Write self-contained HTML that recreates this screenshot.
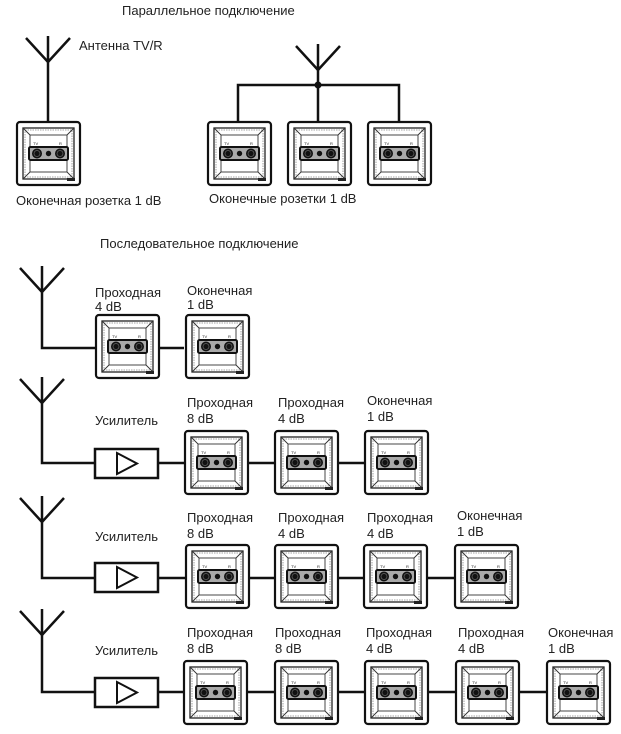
<!DOCTYPE html>
<html><head><meta charset="utf-8"><style>
html,body{margin:0;padding:0;background:#fff;}
svg{display:block;}
text{font-family:"Liberation Sans",Arial,sans-serif;font-size:13px;fill:#222;}
</style></head><body>
<svg width="621" height="734" viewBox="0 0 621 734" xmlns="http://www.w3.org/2000/svg">
<defs>
<g id="s">
<rect x="1" y="1" width="63" height="63" rx="3" fill="#fff" stroke="#111" stroke-width="2.2"/>
<rect x="7" y="7" width="51" height="51" fill="none" stroke="#222" stroke-width="1.3"/>
<rect x="9" y="9" width="47" height="47" fill="none" stroke="#888" stroke-width="0.8" stroke-dasharray="1.5 1"/>
<rect x="14" y="14" width="37" height="37" fill="none" stroke="#333" stroke-width="0.9"/>
<path d="M7 7L14 14M58 7L51 14M7 58L14 51M58 58L51 51" stroke="#333" stroke-width="0.9"/>
<rect x="13" y="26" width="39" height="13" rx="1.5" fill="#aaa" stroke="#111" stroke-width="2"/>
<circle cx="21" cy="32.5" r="5" fill="#111"/><circle cx="21" cy="32.5" r="3" fill="none" stroke="#666" stroke-width="0.7"/>
<circle cx="44" cy="32.5" r="5" fill="#111"/><circle cx="44" cy="32.5" r="3" fill="none" stroke="#666" stroke-width="0.7"/>
<circle cx="32.5" cy="32.5" r="2.7" fill="#111"/>
<text x="17" y="24" style="font-size:4px">TV</text><text x="43" y="24" style="font-size:4px">R</text>
<rect x="51" y="57" width="8" height="3" fill="#222"/>
</g>
<g id="a"><path d="M-22 -24L0 0L22 -24M0 -26V0" fill="none" stroke="#111" stroke-width="2.5"/></g>
<g id="amp"><rect x="0" y="0" width="63" height="29" fill="#fff" stroke="#111" stroke-width="2.5"/><path d="M22 4V25L42 14.5Z" fill="#fff" stroke="#111" stroke-width="2"/></g>
</defs>
<g stroke="#111" stroke-width="2.5" fill="none">
<path d="M48 62V123"/>
<path d="M318 70V121M238 121V85H399V121"/>
<path d="M42 292V348H95M160 348H184"/>
<path d="M42 403V463H95M158 463H184M249 463H274M339 463H364"/>
<path d="M42 522V578H95M158 578H185M250 578H274M339 578H363M428 578H454"/>
<path d="M42 635V692H95M158 692H183M248 692H274M339 692H364M429 692H455M520 692H546"/>
</g>
<circle cx="318" cy="85" r="3.5" fill="#111"/>
<use href="#a" x="48" y="62"/><use href="#a" x="318" y="70"/>
<use href="#a" x="42" y="292"/><use href="#a" x="42" y="403"/><use href="#a" x="42" y="522"/><use href="#a" x="42" y="635"/>
<use href="#amp" x="95" y="449"/><use href="#amp" x="95" y="563"/><use href="#amp" x="95" y="678"/>
<use href="#s" x="16" y="121"/><use href="#s" x="207" y="121"/><use href="#s" x="287" y="121"/><use href="#s" x="367" y="121"/>
<use href="#s" x="95" y="314"/><use href="#s" x="185" y="314"/>
<use href="#s" x="184" y="430"/><use href="#s" x="274" y="430"/><use href="#s" x="364" y="430"/>
<use href="#s" x="185" y="544"/><use href="#s" x="274" y="544"/><use href="#s" x="363" y="544"/><use href="#s" x="454" y="544"/>
<use href="#s" x="183" y="660"/><use href="#s" x="274" y="660"/><use href="#s" x="364" y="660"/><use href="#s" x="455" y="660"/><use href="#s" x="546" y="660"/>
<text x="122" y="15">Параллельное подключение</text>
<text x="79" y="50">Антенна TV/R</text>
<text x="16" y="205">Оконечная розетка 1 dB</text>
<text x="209" y="203">Оконечные розетки 1 dB</text>
<text x="100" y="248">Последовательное подключение</text>
<text x="95" y="297">Проходная</text><text x="95" y="311">4 dB</text>
<text x="187" y="295">Оконечная</text><text x="187" y="309">1 dB</text>
<text x="95" y="425">Усилитель</text>
<text x="187" y="407">Проходная</text><text x="187" y="423">8 dB</text>
<text x="278" y="407">Проходная</text><text x="278" y="423">4 dB</text>
<text x="367" y="405">Оконечная</text><text x="367" y="421">1 dB</text>
<text x="95" y="541">Усилитель</text>
<text x="187" y="522">Проходная</text><text x="187" y="538">8 dB</text>
<text x="278" y="522">Проходная</text><text x="278" y="538">4 dB</text>
<text x="367" y="522">Проходная</text><text x="367" y="538">4 dB</text>
<text x="457" y="520">Оконечная</text><text x="457" y="536">1 dB</text>
<text x="95" y="655">Усилитель</text>
<text x="187" y="637">Проходная</text><text x="187" y="653">8 dB</text>
<text x="275" y="637">Проходная</text><text x="275" y="653">8 dB</text>
<text x="366" y="637">Проходная</text><text x="366" y="653">4 dB</text>
<text x="458" y="637">Проходная</text><text x="458" y="653">4 dB</text>
<text x="548" y="637">Оконечная</text><text x="548" y="653">1 dB</text>
</svg>
</body></html>
